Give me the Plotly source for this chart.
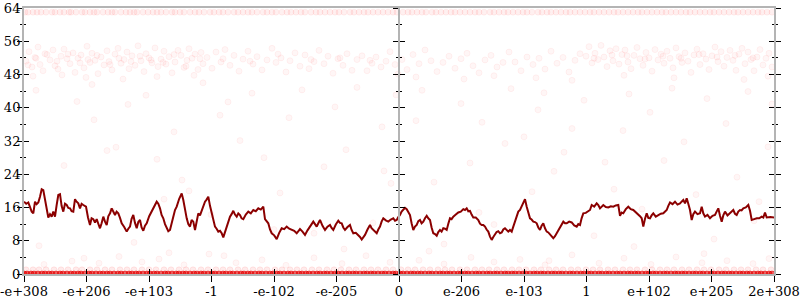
import plotly.graph_objects as go

# ---------------- data ----------------
tick_pos = [0, 62.5, 125, 187.5, 250, 312.5, 375, 437.5, 500, 562.5, 625, 687.5, 750]
tick_text = ["-e+308", "-e+206", "-e+103", "-1", "-e-102", "-e-205", "0",
             "e-206", "e-103", "1", "e+102", "e+205", "2e+308"]

line_pts = [
    (0, 17.4), (2.2, 16.9), (4.3, 17.2), (6.0, 16.0), (7.7, 15.0), (9.3, 14.6), (11.0, 17.4),
    (12.6, 16.8), (14.3, 17.2), (16.0, 18.6), (17.7, 20.4), (19.3, 20.2), (21.0, 18.0), (22.7, 16.2),
    (24.3, 13.6), (26.0, 14.4), (27.7, 13.8), (29.3, 15.0), (31.0, 13.8), (32.6, 16.5), (34.3, 19.0),
    (36.0, 19.2), (37.6, 16.4), (39.3, 15.0), (41.0, 16.9), (42.7, 16.6), (44.3, 15.9), (46.0, 15.8),
    (47.6, 15.1), (49.3, 15.0), (51.0, 18.0), (52.6, 17.4), (54.3, 17.0), (56.0, 15.8), (57.6, 16.9),
    (59.3, 16.6), (62.0, 16.2), (64.0, 13.6), (66.0, 11.8), (67.6, 13.4), (69.3, 13.2), (71.0, 12.4),
    (72.7, 13.2), (74.3, 12.1), (76.0, 11.0), (77.6, 12.2), (79.3, 13.8), (81.0, 12.6), (82.7, 11.8),
    (84.3, 13.9), (86.0, 14.6), (87.7, 15.8), (89.3, 14.8), (91.0, 14.2), (92.6, 15.0), (94.3, 14.6),
    (96.0, 13.5), (97.7, 12.2), (100.2, 11.3), (102.7, 10.2), (104.3, 10.9), (106.0, 11.4),
    (107.6, 13.3), (109.3, 14.2), (111.0, 12.3), (112.7, 11.0), (114.3, 12.5), (116.0, 13.0),
    (117.6, 11.2), (119.3, 10.4), (121.0, 11.6), (122.7, 12.2), (125.2, 13.9), (127.7, 15.0),
    (130.2, 16.3), (132.7, 17.4), (134.3, 16.9), (136.0, 15.8), (137.6, 14.2), (139.3, 13.4),
    (141.0, 12.0), (142.7, 11.0), (144.3, 10.3), (146.0, 10.6), (147.6, 12.6), (149.3, 13.8),
    (151.0, 15.4), (152.7, 16.2), (155.2, 18.1), (157.7, 19.4), (159.3, 17.8), (161.0, 15.2),
    (162.7, 13.4), (164.3, 12.0), (166.0, 11.4), (167.6, 13.0), (169.3, 12.6), (171.0, 10.6),
    (172.6, 12.9), (174.3, 14.6), (176.0, 14.1), (177.7, 15.4), (179.3, 16.2), (181.0, 17.4),
    (182.6, 17.9), (184.3, 18.6), (186.0, 16.4), (187.7, 14.6), (189.3, 12.9), (191.0, 11.4),
    (192.6, 10.9), (194.3, 10.2), (196.0, 10.4), (197.7, 9.8), (199.3, 8.8), (201.0, 10.1),
    (202.7, 11.4), (204.3, 12.9), (206.0, 13.8), (207.6, 14.4), (209.3, 15.2), (211.0, 14.3),
    (212.7, 13.8), (214.3, 14.6), (216.0, 14.2), (217.6, 13.4), (219.3, 13.2), (221.8, 14.3),
    (224.3, 15.0), (226.8, 14.6), (229.3, 15.4), (231.8, 15.1), (234.3, 15.8), (236.8, 15.5),
    (239.3, 16.2), (241.0, 13.2), (242.6, 12.8), (244.3, 12.2), (246.0, 10.7), (247.7, 9.8),
    (250.2, 9.3), (252.7, 8.4), (255.2, 9.9), (257.7, 11.0), (260.2, 10.8), (262.7, 11.4),
    (265.2, 10.9), (267.7, 10.6), (270.2, 10.4), (272.7, 9.8), (274.3, 10.4), (276.0, 10.8),
    (278.5, 10.2), (281.0, 9.4), (283.5, 10.5), (286.0, 11.4), (287.6, 12.0), (289.3, 12.6),
    (291.0, 12.0), (292.7, 11.4), (294.3, 12.2), (296.0, 13.0), (298.5, 11.6), (301.0, 10.6),
    (303.5, 11.4), (306.0, 11.8), (307.6, 11.1), (309.3, 10.6), (311.8, 11.9), (314.3, 12.8),
    (316.0, 12.3), (317.7, 12.2), (319.3, 11.2), (321.0, 10.6), (323.5, 11.3), (326.0, 11.8),
    (327.6, 10.6), (329.3, 9.8), (331.8, 9.9), (334.3, 9.4), (336.0, 8.9), (337.7, 8.3),
    (339.3, 8.9), (341.0, 9.4), (343.5, 10.7), (346.0, 11.8), (347.6, 11.0), (349.3, 10.6),
    (351.0, 10.1), (352.7, 9.8), (354.3, 10.7), (356.0, 11.4), (357.6, 12.6), (359.3, 13.4),
    (361.8, 12.9), (364.3, 12.6), (366.8, 13.1), (369.3, 13.4), (371.0, 12.8), (372.7, 13.0),
    (374.3, 13.7), (376.0, 14.2), (377.6, 15.0), (379.3, 15.4), (381.0, 15.9), (382.7, 15.6),
    (384.3, 15.0), (386.0, 14.2), (387.6, 12.2), (389.3, 10.6), (391.0, 11.4), (392.7, 11.8),
    (394.3, 12.7), (396.0, 13.0), (397.6, 12.2), (399.3, 12.6), (401.0, 13.4), (402.7, 14.0),
    (404.3, 13.4), (406.0, 13.0), (407.6, 11.2), (409.3, 9.8), (411.0, 9.6), (412.7, 9.2),
    (414.3, 10.1), (416.0, 10.6), (417.6, 10.2), (419.3, 11.0), (421.0, 10.9), (422.7, 10.6),
    (424.3, 12.1), (426.0, 13.4), (427.6, 13.2), (429.3, 13.8), (431.8, 14.3), (434.3, 14.8),
    (436.8, 15.0), (439.3, 15.6), (441.0, 15.4), (442.7, 15.8), (444.3, 15.1), (446.0, 15.2),
    (447.6, 14.3), (449.3, 13.6), (451.8, 13.6), (454.3, 13.0), (456.0, 12.1), (457.7, 11.8),
    (459.3, 11.8), (461.0, 11.4), (462.6, 10.7), (464.3, 10.2), (466.0, 9.0), (467.7, 8.2),
    (469.3, 8.9), (471.0, 9.6), (472.6, 10.1), (474.3, 10.3), (476.0, 9.8), (477.7, 10.0),
    (479.3, 10.7), (481.0, 11.0), (482.6, 10.5), (484.3, 10.2), (486.0, 10.6), (487.7, 10.2),
    (489.3, 11.4), (491.0, 12.6), (492.6, 13.7), (494.3, 15.0), (496.0, 15.4), (497.7, 16.2),
    (499.3, 17.0), (501.0, 18.0), (502.7, 16.2), (504.3, 14.6), (506.0, 13.4), (507.6, 13.1),
    (509.3, 12.6), (511.0, 12.5), (512.7, 12.2), (514.3, 11.2), (516.0, 10.6), (517.6, 11.6),
    (519.3, 12.2), (521.0, 11.0), (522.7, 10.2), (524.3, 10.0), (526.0, 9.6), (527.6, 9.1),
    (529.3, 8.6), (531.0, 9.1), (532.7, 9.8), (534.3, 10.5), (536.0, 11.0), (537.6, 12.0),
    (539.3, 12.6), (541.0, 12.2), (542.7, 12.2), (545.2, 12.6), (547.7, 12.4), (550.2, 11.7),
    (552.7, 11.4), (554.3, 12.0), (556.0, 11.8), (557.6, 13.4), (559.3, 14.6), (561.8, 14.7),
    (564.3, 15.0), (566.0, 15.4), (567.7, 16.6), (570.2, 16.2), (572.7, 17.0), (574.3, 16.6),
    (576.0, 15.8), (577.6, 16.3), (579.3, 16.6), (581.8, 16.1), (584.3, 16.0), (586.8, 16.3),
    (589.3, 16.2), (591.8, 16.5), (594.3, 16.6), (596.0, 14.0), (597.6, 14.8), (599.3, 14.6),
    (601.8, 15.6), (604.3, 16.2), (606.8, 15.6), (609.3, 15.4), (611.8, 14.9), (614.3, 14.2),
    (616.0, 13.9), (617.7, 13.4), (619.3, 11.4), (621.0, 13.3), (622.7, 14.6), (624.3, 13.5),
    (626.0, 13.4), (627.6, 14.1), (629.3, 14.6), (631.8, 13.8), (634.3, 14.2), (636.8, 14.5),
    (639.3, 14.6), (641.0, 15.1), (642.7, 15.4), (644.3, 16.4), (646.0, 17.2), (648.5, 16.8),
    (651.0, 17.4), (653.5, 16.7), (656.0, 17.0), (657.6, 17.4), (659.3, 17.8), (661.0, 17.0),
    (662.7, 18.2), (664.3, 16.9), (666.0, 15.4), (667.7, 13.0), (669.3, 14.4), (671.0, 15.0),
    (673.5, 14.4), (676.0, 14.6), (677.7, 16.2), (679.3, 14.6), (681.0, 13.8), (683.5, 14.2),
    (686.0, 13.4), (688.5, 14.0), (691.0, 14.2), (692.6, 15.0), (694.3, 15.8), (696.0, 14.0),
    (697.7, 12.6), (699.3, 14.1), (701.0, 15.0), (703.5, 14.1), (706.0, 14.6), (707.6, 15.0),
    (709.3, 15.4), (711.0, 14.5), (712.7, 14.2), (714.3, 15.0), (716.0, 15.4), (717.6, 15.3),
    (719.3, 15.8), (721.8, 16.0), (724.3, 16.6), (726.0, 15.2), (727.7, 13.0), (730.2, 13.2),
    (732.7, 13.4), (735.2, 13.4), (737.7, 13.8), (739.3, 13.6), (741.0, 14.8), (742.7, 13.6),
    (746.4, 13.7), (750.0, 13.6),
]

band63_x = [1, 4, 9, 13, 17, 22, 28, 31, 36, 40, 45, 47, 52, 58, 61, 66, 70, 73, 79, 84, 88, 91, 97,
            102, 106, 110, 113, 119, 124, 129, 133, 137, 142, 148, 151, 156, 160, 166, 171, 175, 180,
            186, 190, 195, 199, 204, 210, 214, 219, 224, 228, 233, 239, 243, 248, 252, 258, 263, 267,
            272, 277, 281, 287, 292, 296, 301, 306, 311, 315, 320, 326, 330, 335, 340, 344, 349, 354,
            359, 364, 369, 373, 379, 384, 388, 393, 398, 402, 408, 412, 417, 422, 427, 431, 436, 441,
            446, 451, 455, 460, 466, 470, 475, 480, 484, 489, 494, 499, 503, 508, 514, 518, 523, 527,
            532, 537, 542, 546, 551, 556, 561, 566, 570, 575, 580, 585, 590, 594, 599, 604, 609, 614,
            618, 623, 628, 633, 638, 642, 647, 652, 657, 662, 666, 671, 676, 681, 686, 690, 695, 700,
            705, 710, 714, 719, 724, 729, 734, 738, 743, 748]

band0_x = [0, 3, 7, 10, 14, 18, 21, 25, 28, 32, 36, 39, 43, 47, 50, 54, 57, 61, 65, 68, 72, 76, 79, 83,
           86, 90, 94, 97, 101, 105, 108, 112, 115, 119, 123, 126, 130, 133, 137, 141, 144, 148, 152,
           155, 159, 162, 166, 170, 173, 177, 180, 184, 188, 191, 195, 199, 202, 206, 209, 213, 217,
           220, 224, 227, 231, 235, 238, 242, 246, 249, 253, 256, 260, 264, 267, 271, 275, 278, 282,
           285, 289, 293, 296, 300, 303, 307, 311, 314, 318, 322, 325, 329, 332, 336, 340, 343, 347,
           350, 354, 358, 361, 365, 369, 372, 376, 379, 383, 387, 390, 394, 397, 401, 405, 408, 412,
           416, 419, 423, 426, 430, 434, 437, 441, 444, 448, 452, 455, 459, 463, 466, 470, 473, 477,
           481, 484, 488, 491, 495, 499, 502, 506, 510, 513, 517, 520, 524, 528, 531, 535, 538, 542,
           546, 549, 553, 557, 560, 564, 567, 571, 575, 578, 582, 585, 589, 593, 596, 600, 604, 607,
           611, 614, 618, 622, 625, 629, 632, 636, 640, 643, 647, 651, 654, 658, 661, 665, 669, 672,
           676, 679, 683, 687, 690, 694, 698, 701, 705, 708, 712, 716, 719, 723, 726, 730, 734, 737,
           741, 745, 748]

band1_x = [2, 9, 15, 22, 30, 37, 44, 52, 58, 66, 73, 81, 88, 96, 103, 110, 118, 125, 132, 140, 147, 155,
           162, 169, 177, 184, 192, 199, 206, 214, 221, 229, 236, 243, 251, 258, 266, 273, 280, 288,
           295, 303, 310, 317, 325, 332, 340, 347, 354, 362, 369, 377, 384, 391, 399, 406, 414, 421,
           428, 436, 443, 451, 458, 465, 473, 480, 488, 495, 502, 510, 517, 525, 532, 539, 547, 554,
           562, 569, 576, 584, 591, 599, 606, 613, 621, 628, 636, 643, 650, 658, 665, 673, 680, 687,
           695, 702, 710, 717, 724, 732, 739, 747]

low_pts = [(20, 2.3), (48, 3.1), (75, 2.6), (95, 4.2), (118, 2.9), (135, 3.6), (160, 2.2), (185, 4.8),
           (212, 2.7), (238, 3.4), (262, 2.1), (290, 3.9), (318, 2.5), (342, 4.4), (366, 2.8),
           (395, 3.3), (420, 2.4), (447, 4.0), (470, 2.9), (496, 3.5), (521, 2.2), (548, 4.6),
           (575, 2.6), (600, 3.8), (627, 2.3), (652, 4.1), (678, 2.7), (703, 3.2), (729, 2.5), (745, 3.7)]

cloud_pts = [
    (2, 51.2), (5, 53.5), (8, 49.8), (11, 52.1), (14, 54.6), (16, 50.4), (19, 48.9), (23, 52.8),
    (26, 51.5), (29, 53.9), (31, 50.1), (34, 49.3), (37, 52.4), (40, 54.1), (43, 51.8), (46, 50.6),
    (49, 53.2), (51, 48.5), (54, 51.9), (57, 52.7), (60, 49.6), (63, 54.8), (66, 50.9), (68, 53.1),
    (71, 51.4), (74, 48.2), (77, 52.2), (80, 50.3), (83, 53.7), (85, 51.1), (88, 49.1), (91, 52.9),
    (94, 54.3), (97, 50.7), (100, 51.6), (103, 53.4), (105, 49.4), (108, 52.5), (111, 50.2),
    (114, 54.9), (117, 51.3), (120, 48.7), (122, 53.0), (125, 52.0), (128, 50.8), (131, 54.4),
    (134, 49.9), (137, 51.7), (140, 53.6), (142, 50.5), (145, 52.3), (148, 48.4), (151, 51.0),
    (154, 53.8), (157, 52.6), (160, 49.7), (162, 50.0), (165, 54.2), (168, 51.9), (171, 52.9),
    (174, 49.2), (177, 53.3), (179, 50.6),
    (4, 50.3), (12, 51.9), (21, 53.0), (33, 51.2), (44, 52.9), (56, 50.8), (64, 51.6), (73, 52.6),
    (86, 50.4), (95, 51.9), (107, 51.1), (116, 52.4), (127, 51.5), (139, 50.9), (150, 52.8),
    (163, 51.4), (176, 51.8), (9, 47.6), (38, 47.9), (62, 47.3), (99, 46.9), (133, 47.5), (170, 47.8),
    (183, 52.1), (188, 49.5), (192, 53.4), (197, 51.0), (201, 54.0), (206, 50.2), (210, 52.6),
    (215, 48.8), (219, 51.7), (224, 53.6), (229, 50.5), (233, 52.3), (238, 49.1), (243, 51.5),
    (248, 54.3), (252, 50.9), (257, 52.0), (262, 48.6), (266, 51.3), (271, 53.2), (276, 50.0),
    (281, 52.7), (285, 49.4), (290, 51.1), (295, 53.8), (300, 50.6), (304, 52.4), (309, 48.3),
    (314, 51.8), (319, 50.2), (323, 53.0), (328, 49.0), (333, 51.6), (338, 52.5), (343, 48.9),
    (348, 50.7), (352, 52.2), (357, 49.8), (362, 51.2), (366, 53.5), (371, 50.4), (374, 48.1),
    (199, 51.8), (226, 51.2), (254, 52.9), (287, 51.6), (316, 52.0), (346, 51.4),
    (378, 51.6), (383, 49.2), (389, 52.8), (395, 50.6), (401, 53.9), (407, 51.3), (413, 48.7),
    (419, 50.9), (425, 52.4), (431, 49.5), (437, 51.8), (443, 53.1), (449, 50.1), (455, 48.4),
    (461, 51.5), (467, 52.6), (473, 49.8), (479, 50.9), (485, 53.4), (491, 51.0), (497, 48.9),
    (503, 52.2), (509, 50.4), (515, 51.9), (521, 49.3), (527, 53.6), (533, 50.7), (539, 52.1),
    (545, 48.6), (551, 51.4), (556, 53.0), (392, 47.4), (440, 46.9), (470, 47.7), (512, 47.2),
    (548, 46.6),
    (562, 52.4), (565, 54.7), (568, 50.8), (571, 53.1), (574, 51.6), (577, 55.0), (580, 52.2),
    (583, 49.9), (586, 53.7), (589, 51.3), (592, 54.2), (595, 50.5), (598, 52.8), (601, 53.9),
    (604, 51.0), (607, 49.4), (610, 52.6), (613, 54.5), (616, 51.8), (619, 50.2), (622, 53.3),
    (625, 52.0), (628, 48.8), (631, 54.0), (634, 51.5), (637, 52.9), (640, 50.7), (643, 53.6),
    (646, 51.9), (649, 49.6), (652, 54.4), (655, 52.3), (658, 50.9), (661, 53.2), (664, 51.2),
    (667, 48.5), (670, 52.7), (673, 54.1), (676, 50.4), (679, 53.0), (682, 51.7), (685, 49.2),
    (688, 52.5), (691, 54.6), (694, 51.1), (697, 53.5), (700, 50.0), (703, 52.1), (706, 53.8),
    (709, 51.4), (712, 49.0), (715, 52.9), (718, 54.3), (721, 50.6), (724, 53.4), (727, 51.6),
    (730, 48.9), (733, 52.2), (736, 54.0), (739, 50.3), (742, 51.9), (745, 53.1), (748, 49.8),
    (570, 51.9), (588, 52.7), (603, 52.5), (621, 51.7), (639, 52.4), (657, 51.9), (675, 52.8),
    (693, 52.2), (711, 52.6), (729, 52.0), (744, 47.6), (600, 47.8), (650, 47.2), (720, 46.8),
]

sparse_pts = [
    (12, 44.2), (53, 41.5), (68, 45.6), (70, 37.1), (83, 29.7), (92, 30.5), (104, 40.8), (122, 43.0),
    (133, 27.6), (145, 5.1), (150, 34.2), (158, 22.6), (165, 20.0), (179, 46.0), (187, 14.3),
    (196, 38.2), (204, 41.4), (216, 32.1), (228, 43.5), (240, 28.0), (256, 19.5), (265, 37.6),
    (278, 44.3), (290, 9.8), (300, 25.8), (311, 40.2), (322, 29.9), (333, 44.9), (349, 12.3),
    (358, 35.4), (367, 21.8), (372, 43.1), (15, 6.8), (40, 26.1), (60, 3.8), (88, 15.2), (110, 7.6),
    (140, 18.0), (200, 4.4), (250, 10.7), (320, 6.0), (360, 24.8),
    (392, 36.9), (398, 44.2), (410, 22.1), (420, 7.2), (437, 41.0), (446, 26.7), (458, 36.5),
    (470, 11.9), (481, 31.4), (487, 44.6), (500, 33.0), (508, 19.8), (514, 39.5), (520, 43.6),
    (530, 24.7), (540, 29.3), (548, 35.0), (560, 41.8), (570, 9.2), (581, 26.9), (590, 20.4),
    (599, 34.5), (605, 43.3), (618, 15.6), (626, 38.9), (640, 27.3), (648, 44.7), (660, 31.8),
    (672, 19.1), (683, 42.2), (690, 8.4), (702, 36.2), (713, 23.3), (724, 43.9), (735, 17.4),
    (744, 30.6), (748, 40.9), (405, 5.5), (455, 14.8), (525, 3.2), (610, 6.6), (680, 4.9), (730, 12.8),
]

# ---------------- figure ----------------
faint = dict(size=6, color="rgba(255,0,0,0.035)", line=dict(color="rgba(255,0,0,0.05)", width=1))

fig = go.Figure()
fig.add_trace(go.Scatter(x=[p[0] for p in sparse_pts + cloud_pts + low_pts],
                         y=[p[1] for p in sparse_pts + cloud_pts + low_pts],
                         mode="markers", marker=faint, hoverinfo="skip"))
fig.add_trace(go.Scatter(x=band63_x, y=[63] * len(band63_x), mode="markers",
                         marker=dict(size=6, color="rgba(255,0,0,0.06)",
                                     line=dict(color="rgba(255,0,0,0.05)", width=1)),
                         hoverinfo="skip"))
fig.add_trace(go.Scatter(x=band1_x, y=[1] * len(band1_x), mode="markers",
                         marker=dict(size=6, color="rgba(255,0,0,0.08)",
                                     line=dict(color="rgba(255,0,0,0.08)", width=1)),
                         hoverinfo="skip"))
fig.add_trace(go.Scatter(x=band0_x, y=[0] * len(band0_x), mode="markers",
                         marker=dict(size=6, color="rgba(228,0,0,0.6)",
                                     line=dict(color="rgba(228,0,0,0.5)", width=1)),
                         hoverinfo="skip"))
fig.add_trace(go.Scatter(x=[p[0] for p in line_pts], y=[p[1] for p in line_pts], mode="lines",
                         line=dict(color="#8b0000", width=2), hoverinfo="skip"))

# empty traces so every overlaid axis is drawn
for ya in ["y2", "y3", "y4", "y5", "y6"]:
    fig.add_trace(go.Scatter(x=[None], y=[None], xaxis="x", yaxis=ya, showlegend=False))
fig.add_trace(go.Scatter(x=[None], y=[None], xaxis="x2", yaxis="y", showlegend=False))

axis_gray = "#b4b4b4"
tfont = dict(family="DejaVu Serif, Liberation Serif, serif", size=13, color="black")


def yax(ticks, show_labels, **kw):
    d = dict(range=[0, 64], tickmode="linear", tick0=0, dtick=8, ticks=ticks, ticklen=5,
             tickwidth=1, tickcolor="black", showticklabels=show_labels, showgrid=False,
             zeroline=False, showline=True, linecolor=axis_gray, linewidth=2,
             minor=dict(dtick=4, ticks=ticks, ticklen=2, tickwidth=1, tickcolor="black"),
             fixedrange=True, automargin=False, tickfont=tfont)
    d.update(kw)
    return d


fig.update_layout(
    width=800, height=300,
    margin=dict(l=24, r=26, t=8, b=26),
    plot_bgcolor="white", paper_bgcolor="white", showlegend=False,
    font=tfont,
    xaxis=dict(range=[0, 750], tickmode="array", tickvals=tick_pos, ticktext=tick_text,
               ticks="outside", ticklen=6, tickwidth=1, tickcolor="black", tickfont=tfont,
               ticklabelstandoff=-2,
               showgrid=False, zeroline=False, showline=True, mirror=True, automargin=False,
               linecolor=axis_gray, linewidth=2, fixedrange=True, layer="below traces"),
    xaxis2=dict(range=[0, 750], overlaying="x", anchor="y", side="bottom",
                tickmode="array", tickvals=tick_pos, ticks="inside", ticklen=5, tickwidth=1,
                tickcolor="black", showticklabels=False, showgrid=False, zeroline=False,
                showline=False, fixedrange=True, automargin=False),
    yaxis=yax("outside", True, ticklabelstandoff=-6),
    yaxis2=yax("inside", False, overlaying="y", anchor="x", side="left"),
    yaxis3=yax("outside", False, overlaying="y", anchor="free", position=0.5, side="left"),
    yaxis4=yax("inside", False, overlaying="y", anchor="free", position=0.5, side="left"),
    yaxis5=yax("outside", False, overlaying="y", anchor="x", side="right"),
    yaxis6=yax("inside", False, overlaying="y", anchor="x", side="right"),
)

fig.write_html("out.html")
